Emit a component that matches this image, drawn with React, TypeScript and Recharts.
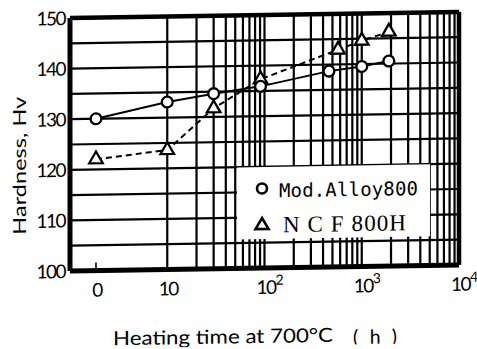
import React from 'react';
import { LineChart, Line, XAxis, YAxis, ReferenceLine, CartesianGrid } from 'recharts';

// "0 h" is drawn at this position on the log axis
const ZERO_POS = 1.85;

const times = [ZERO_POS, 10, 30, 91, 460, 570, 1000, 1900];
const alloy800 = [130, 133.1, 134.6, 135.9, 138.7, null, 139.5, 140.5];
const ncf800h = [122, 123.6, 131.7, 137.3, null, 142.9, 144.6, 146.3];

const seriesNames = ['Mod.Alloy800', 'N C F 800H'];

const xTicks = [ZERO_POS, 10, 100, 1000, 10000];
const xTickBase = ['0', '10', '10', '10', '10'];
const xTickExp = ['', '', '2', '3', '4'];

const yTicks = [100, 105, 110, 115, 120, 125, 130, 135, 140, 145, 150];
const yLabelTicks = [100, 110, 120, 130, 140, 150];

const decades = [10, 100, 1000];
const multipliers = [1, 2, 3, 4, 5, 6, 7, 8, 9];
const xGrid = decades.flatMap((d) => multipliers.map((m) => d * m));

const data = times.map((t, i) => ({ t, alloy: alloy800[i], ncf: ncf800h[i] }));

const AXIS_FONT = 'Lato, "DejaVu Sans", sans-serif';

const XTick = (props: any) => {
  const { x, y, payload } = props;
  const i = xTicks.indexOf(payload.value);
  if (i < 0) return <g />;
  const exp = xTickExp[i];
  if (!exp) {
    return (
      <text x={x + 1} y={y + 26} textAnchor="middle" fontFamily={AXIS_FONT} fontSize={19} letterSpacing={-1.5} fill="#000">
        {xTickBase[i]}
      </text>
    );
  }
  return (
    <text x={x - 8} y={y + 26} textAnchor="start" fontFamily={AXIS_FONT} fontSize={19} letterSpacing={-1.5} fill="#000">
      {xTickBase[i]}
      <tspan dy={-9} fontSize={14} letterSpacing={0}>{exp}</tspan>
    </text>
  );
};

const YTick = (props: any) => {
  const { x, y, payload } = props;
  if (!yLabelTicks.includes(payload.value)) return <g />;
  return (
    <text x={x} y={y + 7} textAnchor="end" fontFamily={AXIS_FONT} fontSize={19} letterSpacing={-1.5} fill="#000">
      {payload.value}
    </text>
  );
};

const CircleDot = (props: any) => {
  const { cx, cy, index, value } = props;
  if (value == null || cx == null || cy == null) return <g key={`c-${index}`} />;
  return <circle key={`c-${index}`} cx={cx} cy={cy} r={5.4} fill="#fff" stroke="#000" strokeWidth={2.3} />;
};

const TriangleDot = (props: any) => {
  const { cx, cy, index, value } = props;
  if (value == null || cx == null || cy == null) return <g key={`t-${index}`} />;
  const s = 13.5;
  const top = cy - s / Math.sqrt(3);
  const bot = cy + s / (2 * Math.sqrt(3));
  return (
    <path
      key={`t-${index}`}
      d={`M${cx},${top} L${cx + s / 2},${bot} L${cx - s / 2},${bot} Z`}
      fill="#fff"
      stroke="#000"
      strokeWidth={2.3}
      strokeLinejoin="miter"
    />
  );
};

export default function App() {
  return (
    <div
      style={{
        position: 'absolute',
        left: 0,
        top: 0,
        width: 477,
        height: 349,
        overflow: 'hidden',
        background: '#fff',
      }}
    >
      <div
        style={{
          position: 'absolute',
          left: 0,
          top: 0,
          width: 477,
          height: 349,
          transform: 'skewY(-0.9deg)',
          transformOrigin: '70px 0px',
        }}
      >
        <LineChart width={477} height={349} data={data} margin={{ top: 18, right: 18, bottom: 48, left: 0 }}>
          <CartesianGrid xAxisId="grid" stroke="#000" strokeWidth={2.2} horizontal={true} vertical={true} />
          <XAxis
            xAxisId="grid"
            dataKey="t"
            type="number"
            scale="log"
            domain={[1, 10000]}
            allowDataOverflow
            ticks={xGrid}
            interval={0}
            hide
          />
          <XAxis
            dataKey="t"
            type="number"
            scale="log"
            domain={[1, 10000]}
            allowDataOverflow
            ticks={xTicks}
            tick={<XTick />}
            tickLine={false}
            tickSize={0}
            tickMargin={0}
            interval={0}
            axisLine={{ stroke: '#000', strokeWidth: 5 }}
            label={{
              content: () => (
                <g>
                  <text x={113} y={346} fontFamily={AXIS_FONT} fontSize={19.5} textLength={220} lengthAdjust="spacingAndGlyphs" fill="#000">
                    Heating time at 700°C
                  </text>
                  <text x={353} y={348.5} fontFamily={AXIS_FONT} fontSize={19.5} textLength={44} lengthAdjust="spacing" fill="#000">
                    (h)
                  </text>
                </g>
              ),
            }}
          />
          <YAxis
            type="number"
            domain={[100, 150]}
            ticks={yTicks}
            interval={0}
            width={70}
            tick={<YTick />}
            tickLine={false}
            tickSize={4}
            tickMargin={1}
            axisLine={{ stroke: '#000', strokeWidth: 5 }}
            label={{
              content: () => (
                <text
                  x={26}
                  y={165}
                  transform="rotate(-90, 26, 165)"
                  textAnchor="middle"
                  fontFamily={AXIS_FONT}
                  fontSize={18}
                  textLength={138}
                  lengthAdjust="spacingAndGlyphs"
                  fill="#000"
                >
                  Hardness, Hv
                </text>
              ),
            }}
          />
          <ReferenceLine y={150} stroke="#000" strokeWidth={4.5} ifOverflow="visible" />
          <ReferenceLine x={10000} stroke="#000" strokeWidth={4.5} ifOverflow="visible" />
          <ReferenceLine
            segment={[
              { x: ZERO_POS, y: 100 },
              { x: ZERO_POS, y: 101.6 },
            ]}
            stroke="#000"
            strokeWidth={1.6}
            ifOverflow="visible"
          />
          <Line
            dataKey="ncf"
            name={seriesNames[1]}
            stroke="#000"
            strokeWidth={2}
            strokeDasharray="6 4"
            connectNulls
            dot={TriangleDot}
            activeDot={false}
            isAnimationActive={false}
          />
          <Line
            dataKey="alloy"
            name={seriesNames[0]}
            stroke="#000"
            strokeWidth={2}
            connectNulls
            dot={CircleDot}
            activeDot={false}
            isAnimationActive={false}
          />
        </LineChart>
        <div
          style={{
            position: 'absolute',
            left: 237,
            top: 170,
            width: 193,
            height: 72,
            background: '#fff',
          }}
        >
          <svg width={193} height={72} style={{ display: 'block' }}>
            <circle cx={25} cy={21.5} r={5} fill="#fff" stroke="#000" strokeWidth={2.6} />
            <text x={42} y={30.5} fontFamily='"DejaVu Sans Mono", monospace' fontSize={19} textLength={139} lengthAdjust="spacing" fill="#000">
              {seriesNames[0]}
            </text>
            <path d="M25,51 L31.5,62 L18.5,62 Z" fill="#fff" stroke="#000" strokeWidth={2.6} />
            <text x={46} y={65.5} fontFamily='"Liberation Serif", serif' fontSize={23} textLength={123} lengthAdjust="spacing" fill="#000">
              {seriesNames[1]}
            </text>
          </svg>
        </div>
      </div>
    </div>
  );
}
